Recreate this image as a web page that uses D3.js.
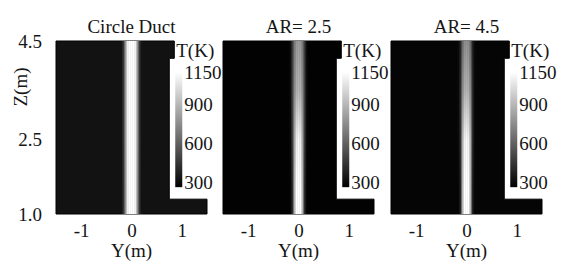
<!DOCTYPE html>
<html lang="en">
<head>
    <meta charset="UTF-8">
    <title>Duct temperature fields</title>
    <style>
        body { margin: 0; background: #fff; }
    </style>
</head>
<body>
    <div id='chart'></div>

    <script src='https://cdnjs.cloudflare.com/ajax/libs/d3/7.8.5/d3.min.js'></script>
    <script type='text/javascript'>
        // panel titles
        const titles = ['Circle Duct', 'AR= 2.5', 'AR= 4.5'];
        // temperature of the duct away from the jet (K)
        const backgroundT = [360, 305, 315];

        // duct outline, Y and Z in metres
        const ductY = [-1.5, 0.85, 0.85, 0.75, 0.75, 1.5, 1.5, -1.5];
        const ductZ = [4.5, 4.5, 4.15, 4.15, 1.3, 1.3, 1.0, 1.0];

        // hot core sampled across Y (offset from centreline) at several heights Z
        const coreY = [-0.20, -0.16, -0.12, -0.08, -0.04, 0, 0.04, 0.08, 0.12, 0.16, 0.20];
        const coreZ = [4.5, 3.5, 2.5, 1.5, 1.0];

        const coreCircle = [
            [360, 480, 800, 1100, 1150, 1150, 1150, 1100, 800, 480, 360],
            [360, 480, 800, 1100, 1150, 1150, 1150, 1100, 800, 480, 360],
            [360, 480, 800, 1100, 1150, 1150, 1150, 1100, 800, 480, 360],
            [360, 470, 780, 1100, 1150, 1150, 1150, 1100, 780, 470, 360],
            [360, 470, 780, 1100, 1150, 1150, 1150, 1100, 780, 470, 360]
        ];
        const coreAR25 = [
            [305, 340, 500, 700, 800, 820, 800, 700, 500, 340, 305],
            [305, 340, 520, 760, 880, 900, 880, 760, 520, 340, 305],
            [305, 330, 500, 850, 1080, 1120, 1080, 850, 500, 330, 305],
            [305, 320, 450, 900, 1150, 1150, 1150, 900, 450, 320, 305],
            [305, 320, 450, 900, 1150, 1150, 1150, 900, 450, 320, 305]
        ];
        const coreAR45 = [
            [315, 330, 420, 650, 760, 780, 760, 650, 420, 330, 315],
            [315, 330, 450, 750, 880, 900, 880, 750, 450, 330, 315],
            [315, 330, 450, 880, 1100, 1130, 1100, 880, 450, 330, 315],
            [315, 320, 420, 900, 1150, 1150, 1150, 900, 420, 320, 315],
            [315, 320, 420, 900, 1150, 1150, 1150, 900, 420, 320, 315]
        ];
        const cores = [coreCircle, coreAR25, coreAR45];

        const yTicks = [-1, 0, 1];
        const yTickLabels = ['-1', '0', '1'];
        const zTicks = [1.0, 2.5, 4.5];
        const zTickLabels = ['1.0', '2.5', '4.5'];
        const legendTicks = [300, 600, 900, 1150];
        const legendBar = [260, 1150];

        const width = 561;
        const height = 262;
        const panelLeft = [56, 223, 391];
        const panelWidth = 151;
        const plotTop = 41;
        const plotBottom = 214;
        const serif = '"Liberation Serif", "DejaVu Serif", "Noto Serif", serif';

        let svg = d3.select('#chart')
                    .append('svg')
                      .attr('width', width)
                      .attr('height', height);
        let defs = svg.append('defs');

        let zScale = d3.scaleLinear().domain([1.0, 4.5]).range([plotBottom, plotTop]);
        let tColor = d3.scaleLinear().domain([300, 1150]).range(['#000', '#fff']).clamp(true);
        let legendScale = d3.scaleLinear().domain([300, 1150]).range([182, 72]);

        const step = coreY[1] - coreY[0];

        titles.forEach((title, p) => {
            let yScale = d3.scaleLinear()
                           .domain([-1.5, 1.5])
                           .range([panelLeft[p], panelLeft[p] + panelWidth]);
            let panel = svg.append('g').attr('class', 'panel');

            // duct body at background temperature
            let outline = d3.line()
                            .x(d => yScale(d[0]))
                            .y(d => zScale(d[1]));
            panel.append('path')
                   .attr('d', outline(d3.zip(ductY, ductZ)) + 'Z')
                   .attr('fill', tColor(backgroundT[p]))
                   .attr('stroke', '#000')
                   .attr('stroke-width', 1);

            // hot core: one column per sampled Y offset, vertical gradient through Z
            coreY.forEach((y0, j) => {
                let grad = defs.append('linearGradient')
                               .attr('id', `core${p}_${j}`)
                               .attr('x1', 0).attr('y1', 0)
                               .attr('x2', 0).attr('y2', 1);
                coreZ.forEach((z, i) => {
                    grad.append('stop')
                          .attr('offset', (zScale(z) - plotTop) / (plotBottom - plotTop))
                          .attr('stop-color', tColor(cores[p][i][j]));
                });
                panel.append('rect')
                       .attr('x', yScale(y0 - step / 2))
                       .attr('y', zScale(4.5))
                       .attr('width', yScale(step) - yScale(0) + 0.4)
                       .attr('height', zScale(1.0) - zScale(4.5))
                       .attr('fill', `url(#core${p}_${j})`);
            });

            // title
            panel.append('text')
                   .attr('x', yScale(0))
                   .attr('y', 33)
                   .attr('text-anchor', 'middle')
                   .text(title);

            // Y axis
            let yAxis = d3.axisBottom(yScale)
                          .tickValues(yTicks)
                          .tickFormat((d, i) => yTickLabels[i])
                          .tickSize(0)
                          .tickPadding(10);
            panel.append('g')
                   .attr('transform', `translate(0, ${plotBottom})`)
                   .call(yAxis)
                   .call(g => g.select('.domain').remove());

            panel.append('text')
                   .attr('x', yScale(0))
                   .attr('y', 257)
                   .attr('text-anchor', 'middle')
                   .text('Y(m)');

            // colour legend sitting in the white area right of the duct
            const R = yScale(0.75);
            let lg = defs.append('linearGradient')
                         .attr('id', `legend${p}`)
                         .attr('x1', 0).attr('y1', 0)
                         .attr('x2', 0).attr('y2', 1);
            lg.append('stop').attr('offset', 0).attr('stop-color', tColor(legendBar[1]));
            lg.append('stop').attr('offset', 1).attr('stop-color', tColor(legendBar[0]));

            panel.append('rect')
                   .attr('x', R + 6)
                   .attr('y', legendScale(legendBar[1]))
                   .attr('width', 7)
                   .attr('height', legendScale(legendBar[0]) - legendScale(legendBar[1]))
                   .attr('fill', `url(#legend${p})`);

            panel.append('text')
                   .attr('x', R + 7)
                   .attr('y', 57)
                   .text('T(K)');

            panel.selectAll('text.tick-t')
                   .data(legendTicks)
                   .enter()
                 .append('text')
                   .attr('class', 'tick-t')
                   .attr('x', R + 15)
                   .attr('y', d => legendScale(d))
                   .attr('dy', '0.35em')
                   .text(d => d);
        });

        // Z axis only on the first panel
        let zAxis = d3.axisLeft(zScale)
                      .tickValues(zTicks)
                      .tickFormat((d, i) => zTickLabels[i])
                      .tickSize(0)
                      .tickPadding(14);
        svg.append('g')
             .attr('transform', `translate(${panelLeft[0]}, 0)`)
             .call(zAxis)
             .call(g => g.select('.domain').remove());

        svg.append('text')
             .attr('transform', 'translate(27, 87) rotate(-90)')
             .attr('text-anchor', 'middle')
             .text('Z(m)');

        // same type for every label
        svg.selectAll('text')
             .attr('font-family', null)
             .style('font-family', serif)
             .style('font-size', '19px')
             .style('fill', '#151515');
        svg.selectAll('.tick text').attr('fill', null);
    </script>
</body>
</html>
